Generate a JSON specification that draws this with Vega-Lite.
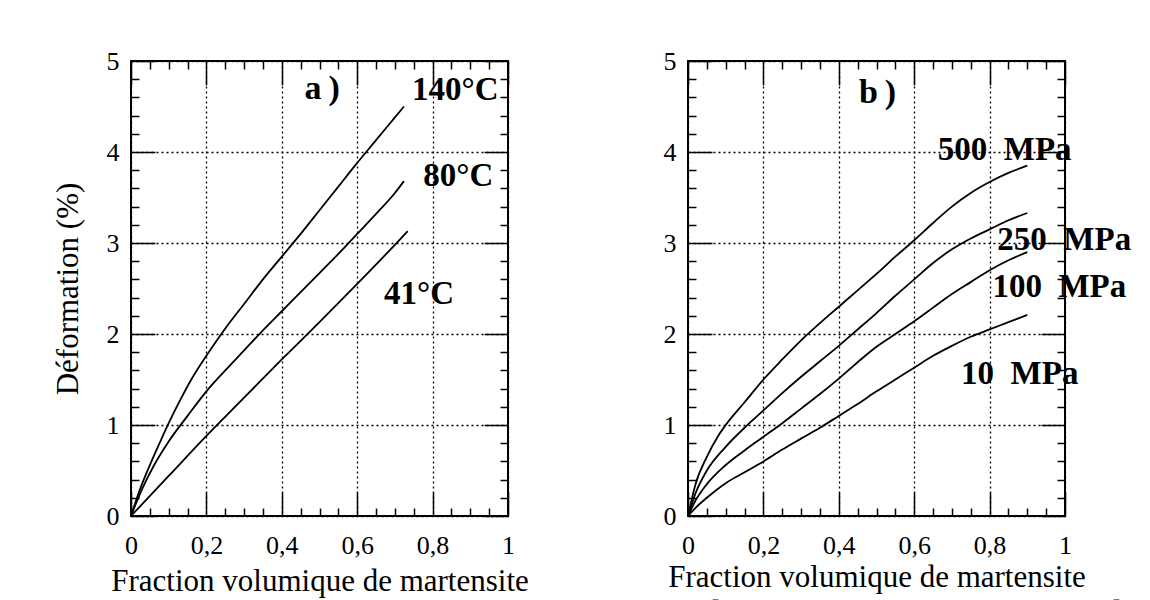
{
  "$schema": "https://vega.github.io/schema/vega-lite/v6.json",
  "background": "white",
  "padding": {"left": 51, "top": 47, "right": 0, "bottom": 0},
  "title": {"text": "de la formation en fonction de la", "orient": "bottom", "anchor": "end", "font": "Liberation Serif", "fontStyle": "italic", "fontSize": 36, "fontWeight": "normal", "offset": 0, "dx": 40, "color": "black"},
  "spacing": 129,
  "datasets": {
    "curvesA": [
      {"s": "140°C", "x": 0, "y": 0}, {"s": "140°C", "x": 0.02, "y": 0.25}, {"s": "140°C", "x": 0.05, "y": 0.56}, {"s": "140°C", "x": 0.08, "y": 0.84}, {"s": "140°C", "x": 0.1, "y": 1.02}, {"s": "140°C", "x": 0.13, "y": 1.27}, {"s": "140°C", "x": 0.16, "y": 1.5}, {"s": "140°C", "x": 0.2, "y": 1.76}, {"s": "140°C", "x": 0.25, "y": 2.06}, {"s": "140°C", "x": 0.3, "y": 2.33}, {"s": "140°C", "x": 0.35, "y": 2.6}, {"s": "140°C", "x": 0.4, "y": 2.85}, {"s": "140°C", "x": 0.45, "y": 3.1}, {"s": "140°C", "x": 0.5, "y": 3.36}, {"s": "140°C", "x": 0.55, "y": 3.62}, {"s": "140°C", "x": 0.6, "y": 3.88}, {"s": "140°C", "x": 0.65, "y": 4.13}, {"s": "140°C", "x": 0.7, "y": 4.38}, {"s": "140°C", "x": 0.724, "y": 4.5},
      {"s": "80°C", "x": 0, "y": 0}, {"s": "80°C", "x": 0.03, "y": 0.3}, {"s": "80°C", "x": 0.06, "y": 0.55}, {"s": "80°C", "x": 0.1, "y": 0.82}, {"s": "80°C", "x": 0.15, "y": 1.1}, {"s": "80°C", "x": 0.2, "y": 1.37}, {"s": "80°C", "x": 0.25, "y": 1.6}, {"s": "80°C", "x": 0.3, "y": 1.82}, {"s": "80°C", "x": 0.35, "y": 2.04}, {"s": "80°C", "x": 0.4, "y": 2.25}, {"s": "80°C", "x": 0.45, "y": 2.46}, {"s": "80°C", "x": 0.5, "y": 2.67}, {"s": "80°C", "x": 0.55, "y": 2.88}, {"s": "80°C", "x": 0.6, "y": 3.1}, {"s": "80°C", "x": 0.65, "y": 3.32}, {"s": "80°C", "x": 0.7, "y": 3.55}, {"s": "80°C", "x": 0.724, "y": 3.68},
      {"s": "41°C", "x": 0, "y": 0}, {"s": "41°C", "x": 0.1, "y": 0.44}, {"s": "41°C", "x": 0.2, "y": 0.88}, {"s": "41°C", "x": 0.3, "y": 1.3}, {"s": "41°C", "x": 0.4, "y": 1.72}, {"s": "41°C", "x": 0.5, "y": 2.13}, {"s": "41°C", "x": 0.6, "y": 2.55}, {"s": "41°C", "x": 0.7, "y": 2.98}, {"s": "41°C", "x": 0.734, "y": 3.13}
    ],
    "labelsA": [
      {"t": "a\u2009)", "x": 0.507, "y": 4.69, "big": true},
      {"t": "140°C", "x": 0.86, "y": 4.68, "big": false},
      {"t": "80°C", "x": 0.868, "y": 3.74, "big": false},
      {"t": "41°C", "x": 0.764, "y": 2.44, "big": false}
    ],
    "curvesB": [
      {"s": "500 MPa", "x": 0, "y": 0}, {"s": "500 MPa", "x": 0.02, "y": 0.35}, {"s": "500 MPa", "x": 0.05, "y": 0.65}, {"s": "500 MPa", "x": 0.08, "y": 0.88}, {"s": "500 MPa", "x": 0.1, "y": 1.0}, {"s": "500 MPa", "x": 0.15, "y": 1.25}, {"s": "500 MPa", "x": 0.2, "y": 1.5}, {"s": "500 MPa", "x": 0.25, "y": 1.72}, {"s": "500 MPa", "x": 0.3, "y": 1.93}, {"s": "500 MPa", "x": 0.35, "y": 2.12}, {"s": "500 MPa", "x": 0.4, "y": 2.3}, {"s": "500 MPa", "x": 0.45, "y": 2.48}, {"s": "500 MPa", "x": 0.5, "y": 2.66}, {"s": "500 MPa", "x": 0.55, "y": 2.85}, {"s": "500 MPa", "x": 0.6, "y": 3.03}, {"s": "500 MPa", "x": 0.65, "y": 3.22}, {"s": "500 MPa", "x": 0.7, "y": 3.4}, {"s": "500 MPa", "x": 0.75, "y": 3.55}, {"s": "500 MPa", "x": 0.8, "y": 3.67}, {"s": "500 MPa", "x": 0.85, "y": 3.77}, {"s": "500 MPa", "x": 0.9, "y": 3.85},
      {"s": "250 MPa", "x": 0, "y": 0}, {"s": "250 MPa", "x": 0.02, "y": 0.25}, {"s": "250 MPa", "x": 0.05, "y": 0.5}, {"s": "250 MPa", "x": 0.1, "y": 0.76}, {"s": "250 MPa", "x": 0.15, "y": 0.97}, {"s": "250 MPa", "x": 0.2, "y": 1.16}, {"s": "250 MPa", "x": 0.25, "y": 1.35}, {"s": "250 MPa", "x": 0.3, "y": 1.53}, {"s": "250 MPa", "x": 0.35, "y": 1.7}, {"s": "250 MPa", "x": 0.4, "y": 1.87}, {"s": "250 MPa", "x": 0.45, "y": 2.05}, {"s": "250 MPa", "x": 0.5, "y": 2.23}, {"s": "250 MPa", "x": 0.55, "y": 2.42}, {"s": "250 MPa", "x": 0.6, "y": 2.6}, {"s": "250 MPa", "x": 0.65, "y": 2.78}, {"s": "250 MPa", "x": 0.7, "y": 2.93}, {"s": "250 MPa", "x": 0.75, "y": 3.05}, {"s": "250 MPa", "x": 0.8, "y": 3.15}, {"s": "250 MPa", "x": 0.85, "y": 3.25}, {"s": "250 MPa", "x": 0.9, "y": 3.33},
      {"s": "100 MPa", "x": 0, "y": 0}, {"s": "100 MPa", "x": 0.02, "y": 0.17}, {"s": "100 MPa", "x": 0.05, "y": 0.35}, {"s": "100 MPa", "x": 0.1, "y": 0.56}, {"s": "100 MPa", "x": 0.15, "y": 0.72}, {"s": "100 MPa", "x": 0.2, "y": 0.87}, {"s": "100 MPa", "x": 0.25, "y": 1.02}, {"s": "100 MPa", "x": 0.3, "y": 1.18}, {"s": "100 MPa", "x": 0.35, "y": 1.34}, {"s": "100 MPa", "x": 0.4, "y": 1.51}, {"s": "100 MPa", "x": 0.45, "y": 1.69}, {"s": "100 MPa", "x": 0.5, "y": 1.86}, {"s": "100 MPa", "x": 0.55, "y": 2.0}, {"s": "100 MPa", "x": 0.6, "y": 2.14}, {"s": "100 MPa", "x": 0.65, "y": 2.29}, {"s": "100 MPa", "x": 0.7, "y": 2.44}, {"s": "100 MPa", "x": 0.75, "y": 2.57}, {"s": "100 MPa", "x": 0.8, "y": 2.7}, {"s": "100 MPa", "x": 0.85, "y": 2.81}, {"s": "100 MPa", "x": 0.9, "y": 2.9},
      {"s": "10 MPa", "x": 0, "y": 0}, {"s": "10 MPa", "x": 0.02, "y": 0.09}, {"s": "10 MPa", "x": 0.05, "y": 0.2}, {"s": "10 MPa", "x": 0.1, "y": 0.36}, {"s": "10 MPa", "x": 0.15, "y": 0.48}, {"s": "10 MPa", "x": 0.2, "y": 0.6}, {"s": "10 MPa", "x": 0.25, "y": 0.73}, {"s": "10 MPa", "x": 0.3, "y": 0.85}, {"s": "10 MPa", "x": 0.35, "y": 0.97}, {"s": "10 MPa", "x": 0.4, "y": 1.1}, {"s": "10 MPa", "x": 0.45, "y": 1.23}, {"s": "10 MPa", "x": 0.5, "y": 1.37}, {"s": "10 MPa", "x": 0.55, "y": 1.5}, {"s": "10 MPa", "x": 0.6, "y": 1.63}, {"s": "10 MPa", "x": 0.65, "y": 1.76}, {"s": "10 MPa", "x": 0.7, "y": 1.87}, {"s": "10 MPa", "x": 0.75, "y": 1.97}, {"s": "10 MPa", "x": 0.8, "y": 2.05}, {"s": "10 MPa", "x": 0.85, "y": 2.13}, {"s": "10 MPa", "x": 0.9, "y": 2.21}
    ],
    "labelsB": [
      {"t": "b\u2009)", "x": 0.503, "y": 4.65, "big": true},
      {"t": "500\u00a0 MPa", "x": 0.84, "y": 4.02, "big": false},
      {"t": "250\u00a0 MPa", "x": 0.998, "y": 3.03, "big": false},
      {"t": "100\u00a0 MPa", "x": 0.985, "y": 2.52, "big": false},
      {"t": "10\u00a0 MPa", "x": 0.88, "y": 1.56, "big": false}
    ]
  },
  "hconcat": [
    {
      "width": 377,
      "height": 455,
      "resolve": {"axis": {"x": "independent", "y": "independent"}},
      "layer": [
        {
          "data": {"name": "curvesA"},
          "mark": {"type": "line", "color": "black", "strokeWidth": 1.8, "interpolate": "monotone"},
          "encoding": {
            "x": {"field": "x", "type": "quantitative", "scale": {"domain": [0, 1], "nice": false},
              "axis": {"orient": "bottom", "title": "Fraction volumique de martensite", "titlePadding": -8,
                "values": [0,0.05,0.1,0.15,0.2,0.25,0.3,0.35,0.4,0.45,0.5,0.55,0.6,0.65,0.7,0.75,0.8,0.85,0.9,0.95,1],
                "labelExpr": "abs(datum.value*5 - round(datum.value*5)) < 0.001 ? replace(format(datum.value, '.1~f'), '.', ',') : ''",
                "tickSize": {"condition": {"test": "abs(datum.value*5 - round(datum.value*5)) < 0.001", "value": -24}, "value": -8},
                "labelPadding": 40,
                "grid": true,
                "gridOpacity": {"condition": {"test": "abs(datum.value*5 - round(datum.value*5)) < 0.001", "value": 1}, "value": 0}}},
            "y": {"field": "y", "type": "quantitative", "scale": {"domain": [0, 5], "nice": false},
              "axis": {"orient": "left", "title": "Déformation (%)", "titlePadding": 19,
                "values": [0,0.2,0.4,0.6,0.8,1,1.2,1.4,1.6,1.8,2,2.2,2.4,2.6,2.8,3,3.2,3.4,3.6,3.8,4,4.2,4.4,4.6,4.8,5],
                "labelExpr": "abs(datum.value - round(datum.value)) < 0.001 ? format(datum.value, 'd') : ''",
                "tickSize": {"condition": {"test": "abs(datum.value - round(datum.value)) < 0.001", "value": -24}, "value": -8},
                "labelPadding": 36,
                "grid": true,
                "gridOpacity": {"condition": {"test": "abs(datum.value - round(datum.value)) < 0.001", "value": 1}, "value": 0}}},
            "detail": {"field": "s", "type": "nominal"}
          }
        },
        {
          "data": {"name": "labelsA"},
          "mark": {"type": "text", "font": "Liberation Serif", "fontWeight": "bold", "color": "black", "align": "center", "baseline": "middle"},
          "encoding": {
            "x": {"field": "x", "type": "quantitative",
              "axis": {"orient": "top", "title": null, "labels": false, "grid": false,
                "values": [0,0.05,0.1,0.15,0.2,0.25,0.3,0.35,0.4,0.45,0.5,0.55,0.6,0.65,0.7,0.75,0.8,0.85,0.9,0.95,1],
                "tickSize": {"condition": {"test": "abs(datum.value*5 - round(datum.value*5)) < 0.001", "value": -24}, "value": -8}}},
            "y": {"field": "y", "type": "quantitative",
              "axis": {"orient": "right", "title": null, "labels": false, "grid": false,
                "values": [0,0.2,0.4,0.6,0.8,1,1.2,1.4,1.6,1.8,2,2.2,2.4,2.6,2.8,3,3.2,3.4,3.6,3.8,4,4.2,4.4,4.6,4.8,5],
                "tickSize": {"condition": {"test": "abs(datum.value - round(datum.value)) < 0.001", "value": -24}, "value": -8}}},
            "text": {"field": "t"},
            "size": {"field": "big", "type": "nominal", "scale": {"domain": [true, false], "range": [34, 33]}, "legend": null}
          }
        }
      ]
    },
    {
      "width": 377,
      "height": 455,
      "resolve": {"axis": {"x": "independent", "y": "independent"}},
      "layer": [
        {
          "data": {"name": "curvesB"},
          "mark": {"type": "line", "color": "black", "strokeWidth": 1.8, "interpolate": "monotone"},
          "encoding": {
            "x": {"field": "x", "type": "quantitative", "scale": {"domain": [0, 1], "nice": false},
              "axis": {"orient": "bottom", "title": "Fraction volumique de martensite", "titlePadding": -12,
                "values": [0,0.05,0.1,0.15,0.2,0.25,0.3,0.35,0.4,0.45,0.5,0.55,0.6,0.65,0.7,0.75,0.8,0.85,0.9,0.95,1],
                "labelExpr": "abs(datum.value*5 - round(datum.value*5)) < 0.001 ? replace(format(datum.value, '.1~f'), '.', ',') : ''",
                "tickSize": {"condition": {"test": "abs(datum.value*5 - round(datum.value*5)) < 0.001", "value": -24}, "value": -8},
                "labelPadding": 40,
                "grid": true,
                "gridOpacity": {"condition": {"test": "abs(datum.value*5 - round(datum.value*5)) < 0.001", "value": 1}, "value": 0}}},
            "y": {"field": "y", "type": "quantitative", "scale": {"domain": [0, 5], "nice": false},
              "axis": {"orient": "left", "title": null,
                "values": [0,0.2,0.4,0.6,0.8,1,1.2,1.4,1.6,1.8,2,2.2,2.4,2.6,2.8,3,3.2,3.4,3.6,3.8,4,4.2,4.4,4.6,4.8,5],
                "labelExpr": "abs(datum.value - round(datum.value)) < 0.001 ? format(datum.value, 'd') : ''",
                "tickSize": {"condition": {"test": "abs(datum.value - round(datum.value)) < 0.001", "value": -24}, "value": -8},
                "labelPadding": 36,
                "grid": true,
                "gridOpacity": {"condition": {"test": "abs(datum.value - round(datum.value)) < 0.001", "value": 1}, "value": 0}}},
            "detail": {"field": "s", "type": "nominal"}
          }
        },
        {
          "data": {"name": "labelsB"},
          "mark": {"type": "text", "font": "Liberation Serif", "fontWeight": "bold", "color": "black", "align": "center", "baseline": "middle"},
          "encoding": {
            "x": {"field": "x", "type": "quantitative",
              "axis": {"orient": "top", "title": null, "labels": false, "grid": false,
                "values": [0,0.05,0.1,0.15,0.2,0.25,0.3,0.35,0.4,0.45,0.5,0.55,0.6,0.65,0.7,0.75,0.8,0.85,0.9,0.95,1],
                "tickSize": {"condition": {"test": "abs(datum.value*5 - round(datum.value*5)) < 0.001", "value": -24}, "value": -8}}},
            "y": {"field": "y", "type": "quantitative",
              "axis": {"orient": "right", "title": null, "labels": false, "grid": false,
                "values": [0,0.2,0.4,0.6,0.8,1,1.2,1.4,1.6,1.8,2,2.2,2.4,2.6,2.8,3,3.2,3.4,3.6,3.8,4,4.2,4.4,4.6,4.8,5],
                "tickSize": {"condition": {"test": "abs(datum.value - round(datum.value)) < 0.001", "value": -24}, "value": -8}}},
            "text": {"field": "t"},
            "size": {"field": "big", "type": "nominal", "scale": {"domain": [true, false], "range": [34, 26]}, "legend": null}
          }
        }
      ]
    }
  ],
  "config": {
    "view": {"stroke": "black", "strokeWidth": 2},
    "axis": {
      "domain": false,
      "tickColor": "black", "tickWidth": 1.5,
      "gridColor": "black", "gridDash": [2, 3], "gridWidth": 1.3,
      "labelFont": "Liberation Serif", "labelFontSize": 26, "labelColor": "black",
      "labelOverlap": false, "labelFlush": false, "labelBound": false,
      "titleFont": "Liberation Serif", "titleFontSize": 31, "titleFontWeight": "normal", "titleColor": "black"
    },
    "title": {"color": "black"}
  }
}
